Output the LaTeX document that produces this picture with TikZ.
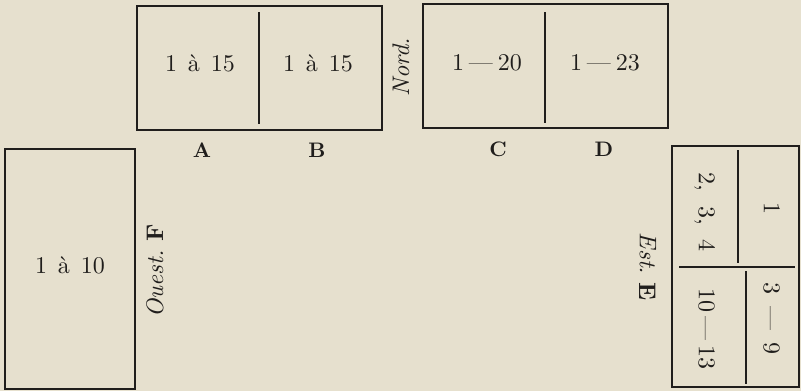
\documentclass[tikz,border=0pt]{standalone}
\usepackage{fontspec}
% the 10pt design of Latin Modern, heavier when set large
\newfontfamily\cellfont{lmroman10-regular}[Extension=.otf, Ligatures=TeX,
  BoldFont=lmroman10-bold, ItalicFont=lmroman10-italic]
\definecolor{paper}{RGB}{230,224,206}
\definecolor{ink}{RGB}{32,30,28}
\newcommand\rng[2]{#1\hspace{.2em}—\hspace{.2em}#2}
\begin{document}
\begin{tikzpicture}[x=1pt,y=-1pt,
  frame/.style={draw=ink, line width=1.8pt},
  divider/.style={draw=ink, line width=1.4pt},
  cell/.style={text=ink, font=\cellfont\fontsize{24}{24}\selectfont, inner sep=0pt,
    text height=1.5ex, text depth=0pt},
  tag/.style={text=ink, font=\cellfont\fontsize{21}{21}\selectfont\bfseries, inner sep=0pt},
  side/.style={text=ink, font=\cellfont\fontsize{24}{24}\selectfont\itshape, inner sep=0pt}]
\fill[paper] (0,0) rectangle (801,391);
\useasboundingbox (0,0) rectangle (801,391);

% north wall: cases A, B and C, D
\draw[frame] (137,6) rectangle (382,130);
\draw[divider] (259,12) -- (259,124);
\draw[frame] (423,4) rectangle (668,128);
\draw[divider] (545,12) -- (545,123);

% west wall: case F
\draw[frame] (5,149) rectangle (135,389);

% east wall: case E, four compartments
\draw[frame] (672,146) rectangle (799,387);
\draw[divider] (679,267) -- (795,267);
\draw[divider] (738,150) -- (738,263);
\draw[divider] (746,271) -- (746,384);

% contents of the cases
\node[cell] (nA) at (200,68) {1\hspace{.45em}à\hspace{.45em}15};
\node[cell] (nB) at (318,68) {1\hspace{.45em}à\hspace{.45em}15};
\node[cell] (nC) at (487,67) {\rng{1}{20}};
\node[cell] (nD) at (605,67) {\rng{1}{23}};
\node[cell] (nF) at (70,270) {1\hspace{.45em}à\hspace{.45em}10};
\node[cell, rotate=-90] (nE1) at (702,212) {2,\hspace{.6em}3,\hspace{.6em}4};
\node[cell, rotate=-90] (nE2) at (767,208) {1};
\node[cell, rotate=-90] (nE3) at (702,329) {\rng{10}{13}};
\node[cell, rotate=-90] (nE4) at (767,318) {3\hspace{.5em}—\hspace{.5em}9};

% case letters
\node[tag] (lA) at (202,150) {A};
\node[tag] (lB) at (317,150) {B};
\node[tag] (lC) at (498,149) {C};
\node[tag] (lD) at (604,149) {D};

% orientation of the walls
\node[side, rotate=90] (nord) at (401,67) {Nord.};
\node[side, rotate=90] (ouest) at (155,271) {Ouest.\ {\upshape\bfseries F}};
\node[side, rotate=-90] (est) at (648,267) {Est.\ {\upshape\bfseries E}};
\end{tikzpicture}
\end{document}
